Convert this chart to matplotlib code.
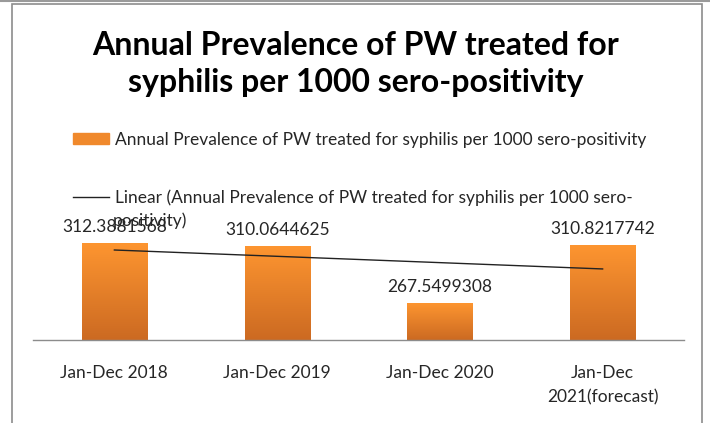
import matplotlib.pyplot as plt
from matplotlib.patches import Rectangle
from matplotlib.lines import Line2D
from matplotlib.colors import LinearSegmentedColormap
import numpy as np

periods = ["Jan-Dec 2018", "Jan-Dec 2019", "Jan-Dec 2020", "Jan-Dec\n2021(forecast)"]
prevalence = [312.3881568, 310.0644625, 267.5499308, 310.8217742]
series_name = "Annual Prevalence of PW treated for syphilis per 1000 sero-positivity"
trend_name = "Linear (Annual Prevalence of PW treated for syphilis per 1000 sero-"
trend_name_rest = "positivity)"
title = "Annual Prevalence of PW treated for\nsyphilis per 1000 sero-positivity"

plt.rcParams['font.family'] = ['Lato', 'DejaVu Sans']
W, H = 710, 423

fig = plt.figure(figsize=(W / 100, H / 100), dpi=100)

# chart frame like the Excel export
fig.add_artist(Rectangle((12 / W, -0.05), 690 / W, 1.05 - 4 / H, transform=fig.transFigure,
                         fill=False, edgecolor='#8c8c8c', lw=1.2))
fig.add_artist(Line2D([0, 1], [1 - 1 / H, 1 - 1 / H], transform=fig.transFigure,
                      color='#9a9a9a', lw=1.5))

ax = fig.add_axes([33 / W, 1 - 340 / H, 651 / W, 107 / H])
x = np.arange(len(periods))
bars = ax.bar(x, prevalence, width=0.4, color='#f0892c', zorder=2)

# vertical gradient on each bar
grad = np.linspace(0, 1, 100).reshape(-1, 1)
cmap = LinearSegmentedColormap.from_list('bar', ['#cc6a22', '#fd9530'])
for b in bars:
    x0 = b.get_x()
    im = ax.imshow(grad, extent=(x0, x0 + b.get_width(), 240, b.get_height()),
                   origin='lower', cmap=cmap, aspect='auto', zorder=2)
    im.set_clip_path(b)
ax.set_aspect('auto')
ax.set_xlim(-0.5, len(periods) - 0.5)
ax.set_ylim(240, 320)

# linear trend line
coef = np.polyfit(x, prevalence, 1)
trend, = ax.plot(x, np.polyval(coef, x), color='#222222', lw=1, zorder=3)

ax.bar_label(bars, labels=[f"{v:.7f}" for v in prevalence], padding=6,
             fontsize=12.5, color='#262626')

for s in ['top', 'left', 'right']:
    ax.spines[s].set_visible(False)
ax.spines['bottom'].set_color('#8c8c8c')
ax.spines['bottom'].set_linewidth(1)
ax.set_yticks([])
ax.set_xticks(x)
ax.set_xticklabels(periods, fontsize=12.5, color='#262626', linespacing=1.65)
ax.tick_params(axis='x', length=0, pad=18)

fig.text(356 / W, 1 - 64 / H, title, ha='center', va='center', fontsize=23,
         fontweight='bold', linespacing=1.3)

leg_patch = Rectangle((0, 0), 1, 1, color='#f0892c')
leg = fig.legend([leg_patch, trend], [series_name, trend_name], loc='upper left',
                 bbox_to_anchor=(73 / W, 1 - 132 / H), frameon=False, fontsize=12.5,
                 handlelength=2.1, handleheight=0.6, handletextpad=0.3,
                 labelspacing=2.37, borderpad=0, borderaxespad=0, labelcolor='#262626')
fig.text(113 / W, 1 - 221 / H, trend_name_rest, ha='left', va='center',
         fontsize=12.5, color='#262626')

fig.savefig('out.png', dpi=100)
